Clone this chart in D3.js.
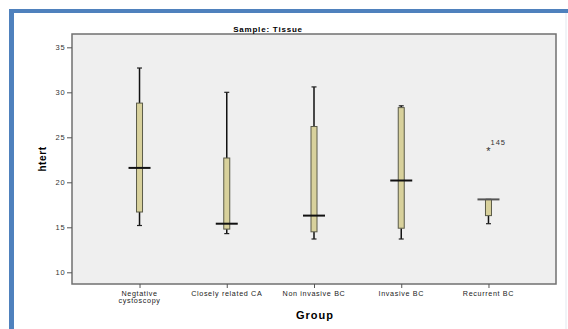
<!DOCTYPE html>
<html>
<head>
<meta charset="utf-8">
<script src="https://cdn.jsdelivr.net/npm/d3@7"></script>
<style>
  body { margin: 0; background: #fff; }
  svg { display: block; font-family: "Liberation Sans", Arial, sans-serif; }
  .tick text { fill: #333; }
</style>
</head>
<body>
<div id="chart"></div>
<script>
// data
const categories = ["Negtative cystoscopy", "Closely related CA", "Non invasive BC", "Invasive BC", "Recurrent BC"];
const categoryLines = [["Negtative", "cystoscopy"], ["Closely related CA"], ["Non invasive BC"], ["Invasive BC"], ["Recurrent BC"]];
const mins    = [15.2, 14.3, 13.7, 13.7, 15.4];
const q1s     = [16.7, 14.8, 14.5, 14.9, 16.3];
const medians = [21.6, 15.4, 16.3, 20.2, 18.1];
const q3s     = [28.8, 22.7, 26.2, 28.3, 18.1];
const maxs    = [32.7, 30.0, 30.6, 28.5, 18.1];
const outlierGroups = ["Recurrent BC"];
const outlierValues = [23.6];
const outlierLabels = ["145"];
const yTicks = [10, 15, 20, 25, 30, 35];

const W = 568, H = 329;
const plot = {left: 72, top: 34, right: 556, bottom: 284};

const svg = d3.select("#chart").append("svg")
  .attr("width", W)
  .attr("height", H);

// blue frame of the screenshot
svg.append("rect").attr("x", 9).attr("y", 9).attr("width", W - 9).attr("height", 4).attr("fill", "#4f81bd");
svg.append("rect").attr("x", 9).attr("y", 9).attr("width", 5).attr("height", H - 9).attr("fill", "#4f81bd");
svg.append("line").attr("x1", 566).attr("x2", 566).attr("y1", 13).attr("y2", H)
  .attr("stroke", "#e3e8ef").attr("stroke-width", 1);

const x = d3.scalePoint()
  .domain(categories)
  .range([plot.left, plot.right])
  .padding(0.774);

const y = d3.scaleLinear()
  .domain([8.7, 36.48])
  .range([plot.bottom, plot.top]);

// plot area
svg.append("rect")
  .attr("x", plot.left)
  .attr("y", plot.top)
  .attr("width", plot.right - plot.left)
  .attr("height", plot.bottom - plot.top)
  .attr("fill", "#efefef")
  .attr("stroke", "#707070")
  .attr("stroke-width", 1.5);

// title
svg.append("text")
  .attr("x", 268).attr("y", 32)
  .attr("text-anchor", "middle")
  .attr("font-size", 8)
  .attr("letter-spacing", 0.8)
  .attr("font-weight", "bold")
  .text("Sample: Tissue");

// y axis
const yAxis = svg.append("g")
  .attr("transform", "translate(" + plot.left + ",0)")
  .call(d3.axisLeft(y).tickValues(yTicks).tickSize(5).tickPadding(1.5));
yAxis.select(".domain").remove();
yAxis.selectAll(".tick line").attr("stroke", "#555");
yAxis.selectAll(".tick text")
  .attr("font-size", 7.5)
  .attr("letter-spacing", 0.8)
  .attr("font-family", "Liberation Sans, Arial, sans-serif");

svg.append("text")
  .attr("transform", "translate(46,159) rotate(-90)")
  .attr("text-anchor", "middle")
  .attr("font-size", 10)
  .attr("letter-spacing", 0.6)
  .attr("font-weight", "bold")
  .text("htert");

// x axis
const xAxis = svg.append("g")
  .attr("transform", "translate(0," + plot.bottom + ")")
  .call(d3.axisBottom(x).tickSize(4).tickFormat(""));
xAxis.select(".domain").remove();
xAxis.selectAll(".tick line").attr("stroke", "#555");

svg.selectAll(".xlab")
  .data(categories)
  .enter()
  .append("text")
  .attr("class", "xlab")
  .attr("x", d => x(d))
  .attr("y", 295.5)
  .attr("text-anchor", "middle")
  .attr("font-size", 7.2)
  .attr("letter-spacing", 0.65)
  .attr("fill", "#222")
  .each(function(d, i) {
    d3.select(this).selectAll("tspan")
      .data(categoryLines[i])
      .enter()
      .append("tspan")
      .attr("x", x(d))
      .attr("dy", (t, j) => j === 0 ? 0 : 7.5)
      .text(t => t);
  });

svg.append("text")
  .attr("x", 315).attr("y", 319)
  .attr("text-anchor", "middle")
  .attr("font-size", 11)
  .attr("letter-spacing", 1)
  .attr("font-weight", "bold")
  .text("Group");

// boxes
const boxW = 6, capW = 5, medW = 22;
const g = svg.selectAll(".box")
  .data(categories)
  .enter()
  .append("g")
  .attr("class", "box");

g.append("line")
  .attr("x1", d => x(d)).attr("x2", d => x(d))
  .attr("y1", (d, i) => y(maxs[i])).attr("y2", (d, i) => y(q3s[i]))
  .attr("stroke", "#111").attr("stroke-width", 1.5);
g.append("line")
  .attr("x1", d => x(d)).attr("x2", d => x(d))
  .attr("y1", (d, i) => y(q1s[i])).attr("y2", (d, i) => y(mins[i]))
  .attr("stroke", "#111").attr("stroke-width", 1.5);
g.append("line")
  .attr("x1", d => x(d) - capW / 2).attr("x2", d => x(d) + capW / 2)
  .attr("y1", (d, i) => y(maxs[i])).attr("y2", (d, i) => y(maxs[i]))
  .attr("stroke", "#222").attr("stroke-width", 1.2);
g.append("line")
  .attr("x1", d => x(d) - capW / 2).attr("x2", d => x(d) + capW / 2)
  .attr("y1", (d, i) => y(mins[i])).attr("y2", (d, i) => y(mins[i]))
  .attr("stroke", "#222").attr("stroke-width", 1.2);

g.append("rect")
  .attr("x", d => x(d) - boxW / 2)
  .attr("y", (d, i) => y(q3s[i]))
  .attr("width", boxW)
  .attr("height", (d, i) => y(q1s[i]) - y(q3s[i]))
  .attr("fill", "#d8d19c")
  .attr("stroke", "#5a5a48")
  .attr("stroke-width", 1);

g.append("line")
  .attr("x1", d => x(d) - medW / 2).attr("x2", d => x(d) + medW / 2)
  .attr("y1", (d, i) => y(medians[i])).attr("y2", (d, i) => y(medians[i]))
  .attr("stroke", (d, i) => medians[i] === q3s[i] ? "#555" : "#111")
  .attr("stroke-width", 2);

// outliers
svg.selectAll(".outlier")
  .data(outlierValues)
  .enter()
  .append("text")
  .attr("x", (d, i) => x(outlierGroups[i]))
  .attr("y", d => y(d) + 5)
  .attr("text-anchor", "middle")
  .attr("font-size", 11)
  .attr("fill", "#333")
  .text("*");

svg.selectAll(".outlier-label")
  .data(outlierValues)
  .enter()
  .append("text")
  .attr("x", (d, i) => x(outlierGroups[i]) + 2)
  .attr("y", d => y(d) - 5)
  .attr("font-size", 7.5)
  .attr("letter-spacing", 1)
  .attr("fill", "#333")
  .text((d, i) => outlierLabels[i]);
</script>
</body>
</html>
